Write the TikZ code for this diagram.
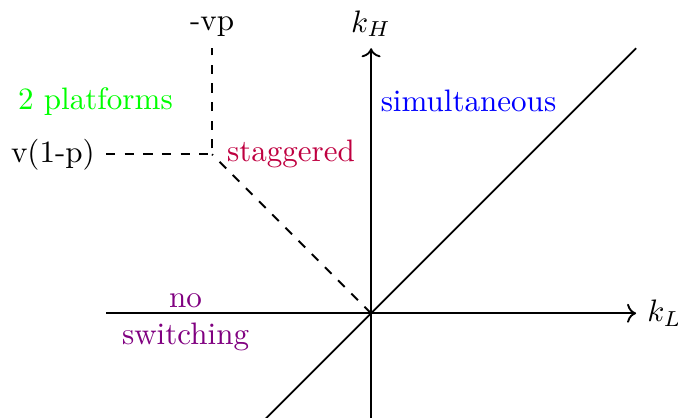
\documentclass[tikz,border=0pt]{standalone}
\usetikzlibrary{arrows.meta,positioning}

\begin{document}
\begin{tikzpicture}[x=0.6cm,y=0.6cm,semithick,lbl/.style={inner sep=0.333em}]
\useasboundingbox (-7,-1.96) rectangle (5.79,5.91);
\coordinate (o) at (0,0);
\coordinate (xl) at (-5,0);
\coordinate (yb) at (0,-2);
\coordinate (c) at (-3,3);
\coordinate (cl) at (-5,3);
\coordinate (ct) at (-3,5);
\coordinate (d1) at (-2,-2);
\coordinate (d2) at (5,5);
\node[anchor=west] (kl) at (5,0) {$k_L$};
\node[anchor=south] (kh) at (0,5) {$k_H$};
\draw[->] (xl) -- (kl.west);
\draw[->] (yb) -- (kh.south);
\draw (d1) -- (d2);
\draw[dashed] (o) -- (c);
\draw[dashed] (cl) -- (c) -- (ct);
\node[anchor=east] (v1p) at (cl) {v(1-p)};
\node[anchor=south] (vp) at (ct) {-vp};
\node[green] (two) at (-5.2,4) {2 platforms};
\node[blue,anchor=west] (sim) at (-0.03,4) {simultaneous};
\node[purple,anchor=west] (stag) at (-2.93,3) {staggered};
\node[violet,align=center] (nosw) at (-3.5,-0.17) {no\\switching};
\end{tikzpicture}
\end{document}
